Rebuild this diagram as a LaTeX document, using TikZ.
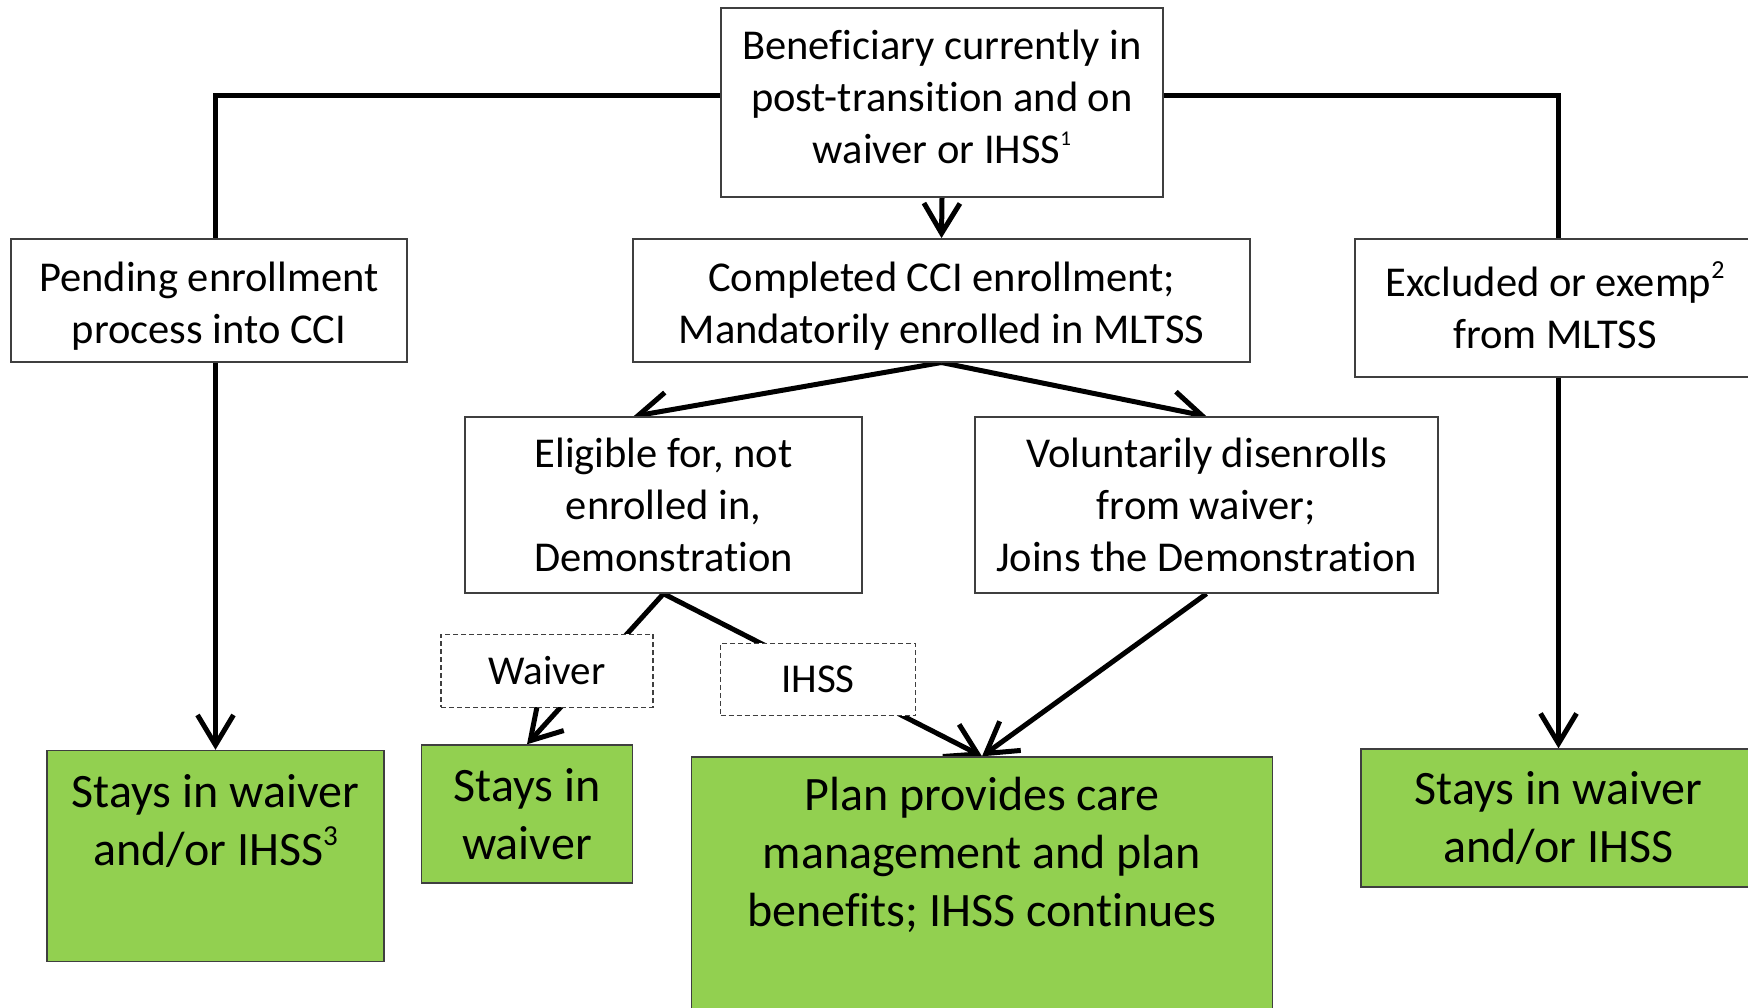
\documentclass[tikz,border=0pt]{standalone}
\usepackage{fontspec}
\setmainfont{Carlito}[Ligatures={NoCommon}]
\usetikzlibrary{arrows.meta,calc,backgrounds}
\definecolor{boxgreen}{HTML}{92D050}
\definecolor{edgegray}{HTML}{3F3F3F}
\newcommand{\fnmark}[3]{\smash{\raisebox{#3}{\fontsize{#2}{#2}\selectfont #1}}}
\begin{document}
\begin{tikzpicture}[x=1pt,y=-1pt,
  box/.style={draw=edgegray,line width=1.4pt,fill=white,inner sep=0pt},
  btext/.style={inner sep=0pt,align=center,font=\fontsize{42.5}{52}\selectfont},
  gbox/.style={draw=edgegray,line width=1.4pt,fill=boxgreen,inner sep=0pt,align=center,font=\fontsize{48}{58}\selectfont},
  gtext/.style={inner sep=0pt,align=center,font=\fontsize{48}{58}\selectfont},
  dbox/.style={draw=edgegray,line width=1.2pt,dash pattern=on 5pt off 3pt,fill=white,inner sep=0pt,font=\fontsize{41}{50}\selectfont},
  conn/.style={line width=5pt,black},
  arr/.style={conn,-{Straight Barb[length=30pt,width=36pt]}}]
\useasboundingbox (0,0) rectangle (1748,1007);
\clip (0,0) rectangle (1748,1007);
% boxes
\node[box,minimum width=442pt,minimum height=189pt] (top) at (942,102.5) {};
\node[btext] (topt) at (942,97) {Beneficiary currently in\\post-transition and on\\waiver or IHSS\fnmark{1}{21pt}{18pt}};
\node[box,minimum width=396pt,minimum height=123pt] (pend) at (209,300.3) {};
\node[btext] (pendt) at (209,306) {Pending enrollment\\process into CCI};
\node[box,minimum width=617pt,minimum height=123pt] (cci) at (941.5,300.3) {};
\node[btext] (ccit) at (941.5,306) {Completed CCI enrollment;\\Mandatorily enrolled in MLTSS};
\node[box,minimum width=400pt,minimum height=138pt] (excl) at (1555,308) {};
\node[btext] (exclt) at (1555,308) {Excluded or exemp\fnmark{2}{26pt}{18pt}\\from MLTSS};
\node[box,minimum width=397pt,minimum height=176pt] (elig) at (663.5,505) {};
\node[btext] (eligt) at (663.5,505) {Eligible for, not\\enrolled in,\\Demonstration};
\node[box,minimum width=463pt,minimum height=176pt] (vol) at (1206.5,505) {};
\node[btext] (volt) at (1206.5,505) {Voluntarily disenrolls\\from waiver;\\Joins the Demonstration};
\node[dbox,minimum width=212pt,minimum height=73pt] (waiv) at (547,670.8) {Waiver};
\node[dbox,minimum width=195pt,minimum height=72.5pt] (ihss) at (818,679.5) {IHSS};
\node[gbox,minimum width=337pt,minimum height=211pt] (stL) at (215.5,856) {};
\node[gtext] (stLt) at (215.5,821) {Stays in waiver\\and/or IHSS\fnmark{3}{29pt}{20pt}};
\node[gbox,minimum width=211pt,minimum height=138pt] (stM) at (527,814) {Stays in\\waiver};
\node[gbox,minimum width=581.5pt,minimum height=258pt] (plan) at (982,886) {};
\node[gtext] (plant) at (982,855) {Plan provides care\\management and plan\\benefits; IHSS continues};
\node[gbox,minimum width=395pt,minimum height=138pt] (stR) at (1558.5,818) {Stays in waiver\\and/or IHSS};
\coordinate (tl) at (215,95);
\coordinate (tr) at (1558,95);
% connectors
\begin{scope}[on background layer]
\draw[conn] (top.west |- tl) -| (pend.north -| tl);
\draw[arr] (stL.north |- pend.south) -- (stL.north);
\draw[conn] (top.east |- tr) -| (excl.north -| tr);
\draw[arr] (stR.north |- excl.south) -- (stR.north);
\draw[arr] (top.south) -- (cci.north);
\draw[arr] (cci.south) -- ($(elig.north)+(-30,0)$);
\draw[arr] (cci.south) -- (vol.north);
\draw[arr] (elig.south) -- (stM.north);
\draw[arr] (elig.south) -- (plan.north);
\draw[arr] (vol.south) -- (plan.north);
\end{scope}
\end{tikzpicture}
\end{document}
